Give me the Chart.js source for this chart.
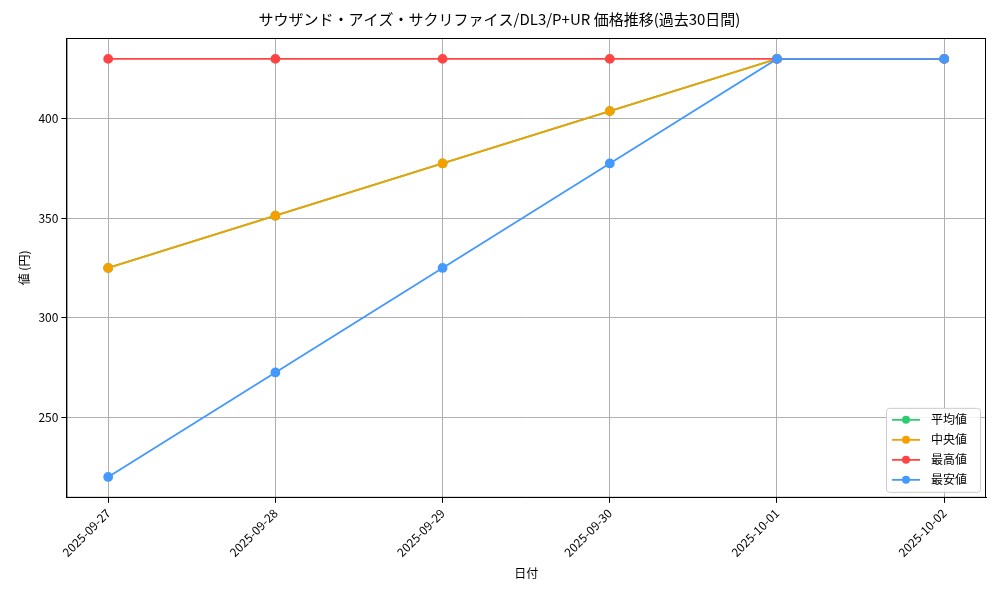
<!DOCTYPE html>
<html><head><meta charset="utf-8">
<script src="https://cdn.jsdelivr.net/npm/chart.js@4/dist/chart.umd.min.js"></script>
<style>html,body{margin:0;padding:0;background:#fff}#w{width:1000px;height:600px}</style>
</head><body><div id="w"><canvas id="c"></canvas></div>
<script>
const dates = ['2025-09-27','2025-09-28','2025-09-29','2025-09-30','2025-10-01','2025-10-02'];
const meanVals = [325, 351.25, 377.5, 403.75, 430, 430];
const medianVals = [325, 351.25, 377.5, 403.75, 430, 430];
const maxVals = [430, 430, 430, 430, 430, 430];
const minVals = [220, 272.5, 325, 377.5, 430, 430];
const yTicks = [250, 300, 350, 400];
const F = "'Noto Sans CJK JP', 'DejaVu Sans', sans-serif";
const pts = a => a.map((v,i)=>({x:i,y:v}));
const ds = (label, data, color, order) => ({label, data: pts(data), borderColor: color, backgroundColor: color,
  pointRadius: 4, pointHoverRadius: 4, borderWidth: 1.8, order, tension: 0});
const legendPlugin = {
  id: 'lg',
  afterDraw(chart) {
    const ctx = chart.ctx, a = chart.chartArea;
    ctx.save();
    ctx.strokeStyle = '#000'; ctx.lineWidth = 1;
    ctx.strokeRect(a.left + 0.5, a.top + 0.5, a.right - a.left - 1, a.bottom - a.top - 1);
    const items = chart.data.datasets;
    const w = 94, h = 84, x = a.right - w - 6, y = a.bottom - h - 6;
    ctx.fillStyle = 'rgba(255,255,255,0.85)'; ctx.strokeStyle = '#ccc';
    ctx.beginPath(); ctx.roundRect(x+0.5, y+0.5, w, h, 3); ctx.fill(); ctx.stroke();
    ctx.font = '12px ' + F; ctx.textBaseline = 'middle';
    items.forEach((d, i) => {
      const cy = y + 12 + i * 20;
      ctx.strokeStyle = d.borderColor; ctx.lineWidth = 1.8;
      ctx.beginPath(); ctx.moveTo(x + 6, cy); ctx.lineTo(x + 34, cy); ctx.stroke();
      ctx.fillStyle = d.borderColor; ctx.beginPath(); ctx.arc(x + 20, cy, 4, 0, Math.PI*2); ctx.fill();
      ctx.fillStyle = '#000'; ctx.fillText(d.label, x + 45, cy);
    });
    ctx.restore();
  }
};
new Chart(document.getElementById('c'), {
  type: 'line',
  data: { datasets: [
    ds('平均値', meanVals, '#2ecc71', 4),
    ds('中央値', medianVals, '#f5a000', 3),
    ds('最高値', maxVals, '#ff4444', 2),
    ds('最安値', minVals, '#4499ff', 1)
  ]},
  options: {
    responsive: true, maintainAspectRatio: false, animation: false,
    layout: { padding: { left: 13, right: 14, top: 4, bottom: 15 } },
    plugins: {
      legend: { display: false }, tooltip: { enabled: false },
      title: { display: true, text: 'サウザンド・アイズ・サクリファイス/DL3/P+UR 価格推移(過去30日間)',
        color: '#000', font: { family: F, size: 15, weight: 'normal' }, padding: { top: 6, bottom: 10 } }
    },
    scales: {
      x: { type: 'linear', min: -0.25, max: 5.25,
        afterBuildTicks: ax => { ax.ticks = dates.map((d,i)=>({value:i})); },
        ticks: { callback: v => dates[v], maxRotation: 45, minRotation: 45, color: '#000', font: { family: F, size: 12 } },
        grid: { color: '#b0b0b0', tickColor: '#000', tickLength: 5 },
        border: { color: '#000' },
        title: { display: true, text: '日付', color: '#000', font: { family: F, size: 12 } } },
      y: { min: 209.5, max: 440.5,
        afterBuildTicks: ax => { ax.ticks = yTicks.map(v=>({value:v})); },
        ticks: { color: '#000', font: { family: F, size: 12 } },
        grid: { color: '#b0b0b0', tickColor: '#000', tickLength: 5 },
        border: { color: '#000' },
        title: { display: true, text: '値 (円)', color: '#000', font: { family: F, size: 12 } } }
    }
  },
  plugins: [legendPlugin]
});
</script></body></html>
